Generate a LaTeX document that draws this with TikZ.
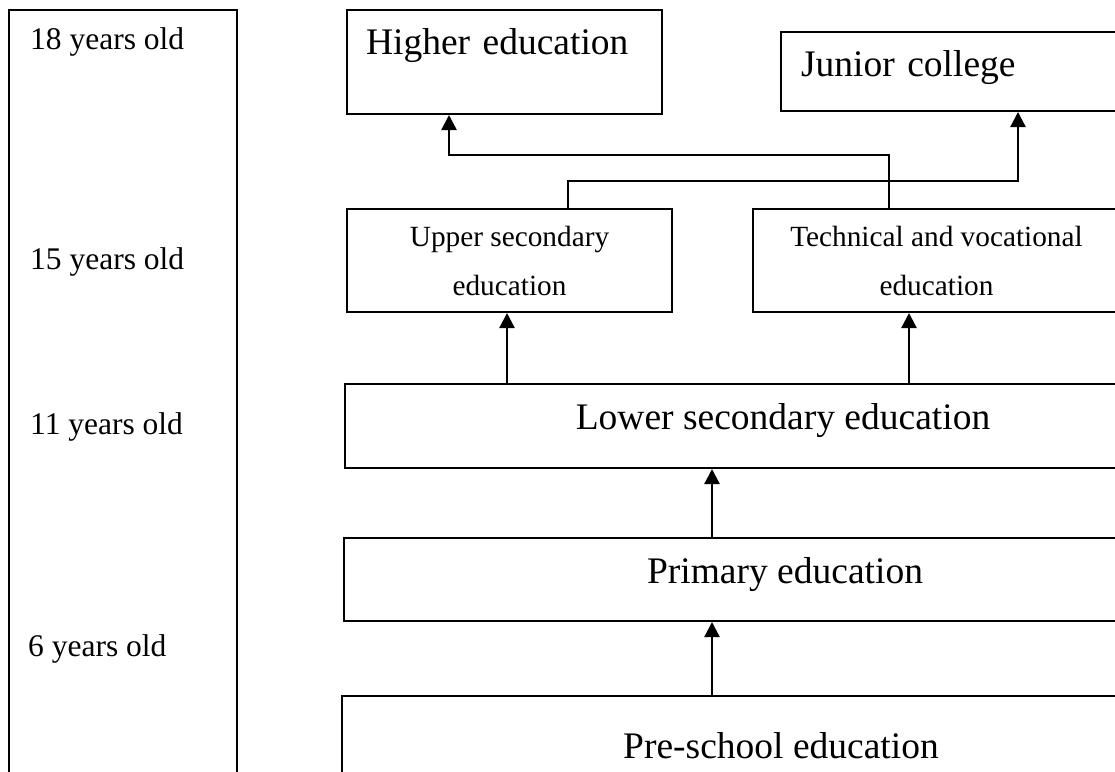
\documentclass[tikz,border=0pt]{standalone}
\usepackage{fontspec}
\setmainfont{Liberation Serif}
\usepackage{tikz}
\usetikzlibrary{arrows.meta}

\newcommand{\stagefont}{\fontsize{37.5}{45}\selectfont}
\newcommand{\subfont}{\fontsize{29.3}{49}\selectfont}
\newcommand{\agefont}{\fontsize{31.5}{38}\selectfont}

\tikzset{
  stage/.style={draw, line width=2pt, rectangle, inner sep=0pt, anchor=north west, font=\stagefont},
  substage/.style={stage, align=center, font=\subfont},
  age/.style={anchor=base west, inner sep=0pt, font=\agefont},
  arr/.style={line width=2.3pt, -{Triangle[length=15pt,width=15pt]}},
  link/.style={line width=2pt}
}

\begin{document}
\begin{tikzpicture}[x=1pt,y=-1pt]
   \useasboundingbox (0,0) rectangle (1115,771);
   \clip (0,0) rectangle (1115,771);
   % age column
   \node[stage, minimum width=228pt, minimum height=800pt] (agebar) at (8,9) {};
   \node[age] (a18) at (30,49) {18 years old};
   \node[age] (a15) at (30,269) {15 years old};
   \node[age] (a11) at (30,434) {11 years old};
   \node[age] (a6) at (28,656) {6 years old};
   % stages
   \node[stage, text width=277pt, inner xsep=19pt, align=left, text height=44pt, text depth=60pt] (higher) at (346,9) {Higher education};
   \node[stage, text width=360pt, inner xsep=20pt, align=left, text height=44pt, text depth=35pt] (junior) at (780,31) {Junior college};
   \node[substage, minimum width=325pt, minimum height=103pt] (upper) at (346,208) {Upper secondary\\education};
   \node[substage, minimum width=367pt, minimum height=103pt] (tech) at (752,208) {Technical and vocational\\education};
   \node[stage, minimum width=876pt, text height=45pt, text depth=39pt] (lower) at (344,383) {Lower secondary education};
   \node[stage, minimum width=882pt, text height=45pt, text depth=38pt] (primary) at (343,537) {Primary education};
   \node[stage, minimum width=878pt, text height=62pt, text depth=138pt] (pre) at (341,695) {Pre-school education};
   % bends
   \coordinate (hbend) at (449,155);
   \coordinate (jbend) at (1018,181);
   \draw[arr] (pre.north -| 712,0) -- (primary.south -| 712,0);
   \draw[arr] (primary.north -| 712,0) -- (lower.south -| 712,0);
   \draw[arr] (lower.north -| 507,0) -- (upper.south -| 507,0);
   \draw[arr] (lower.north -| 909,0) -- (tech.south -| 909,0);
   \draw[arr] (tech.north -| 889,0) |- (hbend) -- (higher.south -| hbend);
   \draw[arr] (upper.north -| 568,0) |- (jbend) -- (junior.south -| jbend);
\end{tikzpicture}
\end{document}
